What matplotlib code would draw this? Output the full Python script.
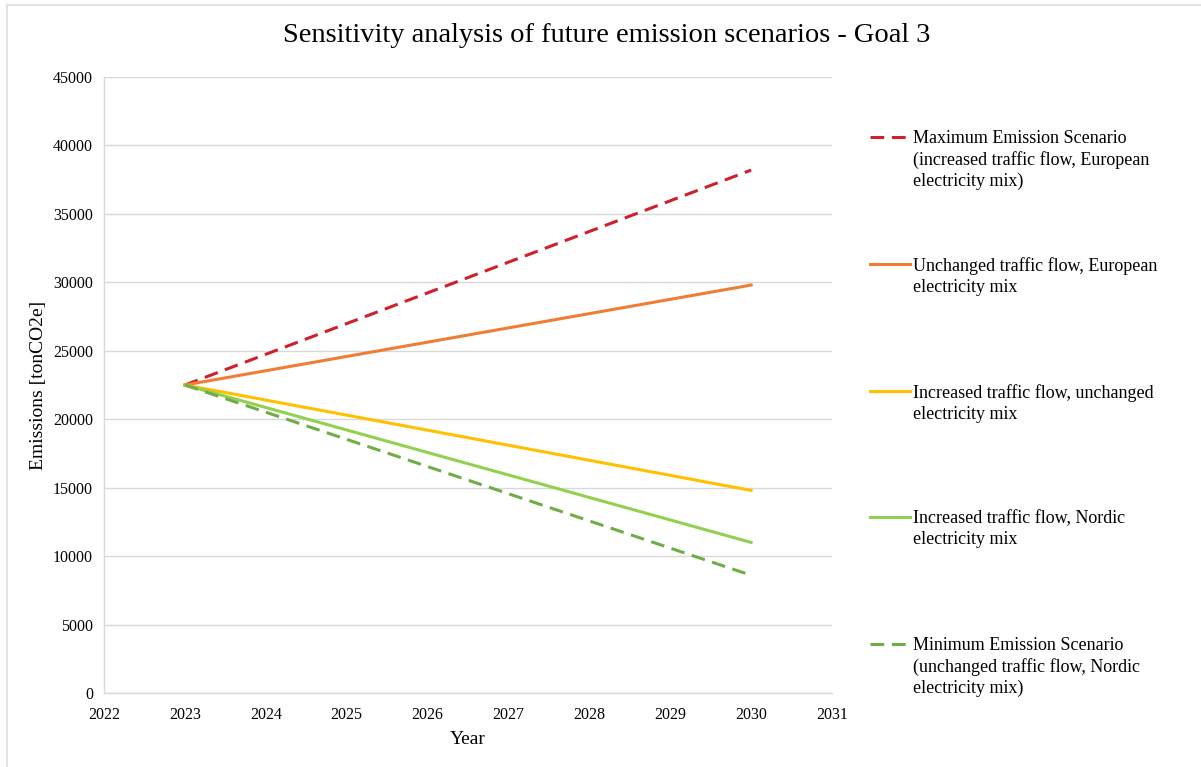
import numpy as np
import matplotlib
matplotlib.use("Agg")
import matplotlib.pyplot as plt
from matplotlib.lines import Line2D

plt.rcParams['font.family'] = ['Liberation Serif', 'DejaVu Serif']

# Scenario data: emissions in tonCO2e, 2023 baseline and 2030 projection
years = [2023, 2030]
max_scenario = [22500, 38200]
unchanged_traffic_eu = [22500, 29800]
increased_traffic_unchanged_mix = [22500, 14800]
increased_traffic_nordic = [22500, 11000]
min_scenario = [22500, 8600]

labels = [
    "Maximum Emission Scenario\n(increased traffic flow, European\nelectricity mix)",
    "Unchanged traffic flow, European\nelectricity mix",
    "Increased traffic flow, unchanged\nelectricity mix",
    "Increased traffic flow, Nordic\nelectricity mix",
    "Minimum Emission Scenario\n(unchanged traffic flow, Nordic\nelectricity mix)",
]
series = [max_scenario, unchanged_traffic_eu, increased_traffic_unchanged_mix,
          increased_traffic_nordic, min_scenario]
colors = ["#d0202a", "#ef7d36", "#ffc000", "#92d050", "#70ad47"]
styles = [(0, (4.5, 2.5)), "-", "-", "-", (0, (4.5, 2.5))]

W, H = 1201, 767
fig = plt.figure(figsize=(W / 100, H / 100), dpi=100)
ax = fig.add_axes([104 / W, 1 - 693 / H, (832 - 104) / W, (693 - 77) / H])

for vals, c, ls in zip(series, colors, styles):
    ax.plot(years, vals, color=c, linestyle=ls, linewidth=2.2)

ax.set_xlim(2022, 2031)
ax.set_ylim(0, 45000)
ax.set_xticks(np.arange(2022, 2032, 1))
ax.set_yticks(np.arange(0, 45001, 5000))
ax.tick_params(length=0, labelsize=11.5, pad=8)
ax.tick_params(axis='x', pad=10)
ax.grid(axis='y', color='#d9d9d9', linewidth=1)
ax.set_axisbelow(True)
for side in ['top', 'right']:
    ax.spines[side].set_visible(False)
for side in ['left', 'bottom']:
    ax.spines[side].set_color('#d9d9d9')
    ax.spines[side].set_linewidth(1)

ax.set_xlabel("Year", fontsize=14, labelpad=6)
ax.set_ylabel("Emissions [tonCO2e]", fontsize=14, labelpad=4)
fig.text(607 / W, 1 - 35 / H, "Sensitivity analysis of future emission scenarios - Goal 3",
         ha='center', va='center', fontsize=20.5)

# Legend drawn by hand so the key line sits on the first text line
entry_y = [137, 264, 391, 517, 644]
for y, lab, c, ls in zip(entry_y, labels, colors, styles):
    fig.add_artist(Line2D([870 / W, 910 / W], [1 - y / H, 1 - y / H],
                          color=c, linestyle=ls, linewidth=2.2))
    fig.text(913 / W, 1 - (y - 7) / H, lab, ha='left', va='top',
             fontsize=13, linespacing=1.28)

# Light frame along the top and left edges
fig.add_artist(Line2D([7 / W, 1], [1 - 5 / H, 1 - 5 / H], color='#e3e3e3', linewidth=1.5))
fig.add_artist(Line2D([7 / W, 7 / W], [0, 1 - 5 / H], color='#e3e3e3', linewidth=1.5))

fig.savefig("out.png", dpi=100)
